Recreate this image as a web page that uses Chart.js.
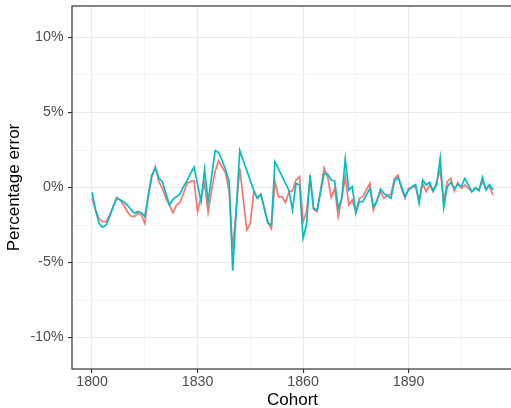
<!DOCTYPE html>
<html>
<head>
<meta charset="utf-8">
<script src="https://cdn.jsdelivr.net/npm/chart.js@4.4.1/dist/chart.umd.min.js"></script>
<style>
html,body{margin:0;padding:0;background:#fff;overflow:hidden;}
#wrap{width:515px;height:408px;}
</style>
</head>
<body>
<div id="wrap"><canvas id="c" width="515" height="408"></canvas></div>
<script>
// Red series (cohort years and percentage error)
const redYears = [1800,1801,1802,1803,1804,1805,1806,1807,1808,1809,1810,1811,1812,1813,1814,1815,1816,1817,1818,1819,1820,1821,1822,1823,1824,1825,1826,1827,1828,1829,1830,1831,1832,1833,1834,1835,1836,1837,1838,1839,1840,1842,1844,1845,1846,1847,1848,1850,1851,1852,1853,1854,1855,1856,1857,1858,1859,1860,1861,1862,1863,1864,1866,1867,1868,1869,1870,1871,1872,1873,1874,1875,1876,1877,1879,1880,1881,1882,1883,1884,1885,1886,1887,1888,1889,1890,1891,1892,1893,1894,1895,1896,1897,1898,1899,1900,1901,1902,1903,1904,1905,1906,1907,1908,1909,1910,1911,1912,1913,1914];
const redValues = [-0.72,-1.5,-2.1,-2.28,-2.28,-1.83,-1.28,-0.66,-0.83,-1.17,-1.6,-1.9,-1.94,-1.72,-1.83,-2.4,-0.6,0.7,1.39,0.39,-0.06,-0.72,-1.17,-1.68,-1.17,-1.0,-0.39,0.28,0.39,0.45,-1.61,-0.61,0.28,-1.65,-0.17,1.06,1.79,1.35,0.94,-0.3,-4.15,1.28,-2.83,-2.39,-0.28,-0.72,-0.45,-2.3,-2.75,0.4,-0.62,-0.62,-1.0,-0.28,-0.22,0.5,0.72,-2.3,-1.6,0.55,-1.45,-1.61,1.3,0.72,-0.67,-0.06,-1.94,-0.72,0.72,-1.17,-0.83,-1.61,-0.72,-0.61,0.28,-1.5,-0.83,-0.28,-0.72,-0.5,-0.46,0.61,0.83,-0.06,-0.72,-0.06,0.0,0.06,-0.83,0.28,-0.28,0.17,-0.28,0.39,1.17,-0.94,0.39,0.61,-0.23,0.34,-0.06,0.17,-0.06,-0.28,-0.06,-0.17,0.39,-0.06,0.06,-0.5];
// Teal series
const tealYears = [1800,1801,1802,1803,1804,1805,1806,1807,1808,1809,1810,1811,1812,1813,1814,1815,1816,1817,1818,1819,1820,1821,1822,1823,1824,1825,1826,1827,1828,1829,1831,1832,1833,1834,1835,1836,1837,1838,1839,1840,1842,1846,1847,1848,1850,1851,1852,1856,1857,1858,1859,1860,1861,1862,1863,1864,1866,1867,1868,1869,1870,1871,1872,1873,1874,1875,1876,1877,1879,1880,1881,1882,1883,1884,1885,1886,1887,1888,1889,1890,1891,1892,1893,1894,1895,1896,1897,1898,1899,1900,1901,1902,1903,1904,1905,1906,1907,1908,1909,1910,1911,1912,1913,1914];
const tealValues = [-0.32,-1.5,-2.4,-2.65,-2.5,-1.94,-1.28,-0.72,-0.83,-0.94,-1.17,-1.45,-1.72,-1.6,-1.68,-1.94,-0.5,0.83,1.28,0.61,0.39,-0.39,-1.17,-0.79,-0.61,-0.43,0.06,0.45,0.94,1.35,-0.94,1.21,-0.94,0.72,2.46,2.32,1.8,1.17,0.39,-5.54,2.46,-0.2,-0.72,-0.45,-2.39,-2.5,1.72,-0.2,-1.5,0.28,0.17,-3.39,-2.45,0.83,-1.39,-1.5,0.94,0.88,0.5,0.43,-1.39,-0.72,1.9,-0.17,0.06,-1.72,-0.94,-0.94,-0.06,-1.28,-0.94,-0.1,-0.39,-0.55,-0.72,0.45,0.66,0.06,-0.61,-0.17,0.06,0.2,-1.06,0.5,0.17,0.34,-0.23,0.2,1.94,-1.34,0.06,0.34,-0.06,0.2,0.06,0.61,0.17,-0.28,0.0,-0.23,0.66,-0.17,0.2,-0.17];
// Tick positions and labels
const xTicks = [1800,1815,1830,1845,1860,1875,1890,1905];
const xMajor = [1800,1830,1860,1890];
const yTicks = [-10,-7.5,-5,-2.5,0,2.5,5,7.5,10];
const yMajor = [-10,-5,0,5,10];
const xTitle = 'Cohort';
const yTitle = 'Percentage error';

Chart.defaults.font.family = "'Liberation Sans', Arial, sans-serif";

const borderPlugin = {
  id: 'panelBorder',
  afterDraw(chart) {
    const {ctx, chartArea: a} = chart;
    ctx.save();
    ctx.strokeStyle = '#333333';
    ctx.lineWidth = 1.2;
    ctx.strokeRect(a.left, a.top, a.right - a.left, a.bottom - a.top);
    ctx.restore();
  }
};

const gridOpts = (major) => ({
  color: c => (c.tick && major.includes(c.tick.value)) ? '#EBEBEB' : '#F0F0F0',
  lineWidth: c => (c.tick && major.includes(c.tick.value)) ? 1.1 : 0.7,
  tickColor: c => (c.tick && major.includes(c.tick.value)) ? '#333333' : 'rgba(0,0,0,0)',
  tickLength: 4,
  tickWidth: 1.1,
  drawTicks: true
});

const zeroPad = s => { s.paddingTop = 0; s.paddingBottom = 0; s.paddingLeft = 0; s.paddingRight = 0; };

new Chart(document.getElementById('c'), {
  type: 'line',
  data: {
    datasets: [
      {
        data: tealYears.map((x, i) => ({x: x, y: tealValues[i]})),
        borderColor: '#00BFC4', borderWidth: 1.7, pointRadius: 0, tension: 0, fill: false, order: 1
      },
      {
        data: redYears.map((x, i) => ({x: x, y: redValues[i]})),
        borderColor: '#F8766D', borderWidth: 1.7, pointRadius: 0, tension: 0, fill: false, order: 2
      }
    ]
  },
  options: {
    responsive: false,
    animation: false,
    devicePixelRatio: 1,
    layout: {padding: {left: 0, top: 6, right: 2, bottom: 0}},
    plugins: {legend: {display: false}, tooltip: {enabled: false}},
    scales: {
      x: {
        type: 'linear', min: 1794.3, max: 1919.7,
        afterBuildTicks: s => { s.ticks = xTicks.map(v => ({value: v})); },
        afterFit: s => { s.height = 39; zeroPad(s); },
        grid: gridOpts(xMajor),
        border: {display: false},
        ticks: {
          autoSkip: false, maxRotation: 0, padding: 1,
          color: '#4D4D4D', font: {size: 14.2},
          callback: v => xMajor.includes(v) ? String(v) : ''
        },
        title: {display: true, text: xTitle, color: '#000', font: {size: 17, lineHeight: 0.85}, padding: 0}
      },
      y: {
        type: 'linear', min: -12.1, max: 12.1,
        afterBuildTicks: s => { s.ticks = yTicks.map(v => ({value: v})); },
        afterFit: s => { s.width = 72; zeroPad(s); },
        grid: gridOpts(yMajor),
        border: {display: false},
        ticks: {
          autoSkip: false, padding: 4.5,
          color: '#4D4D4D', font: {size: 14.2},
          callback: v => yMajor.includes(v) ? (String(v) + '%') : ''
        },
        title: {display: true, text: yTitle, color: '#000', font: {size: 17, lineHeight: 1.2}, padding: {top: 4, bottom: 0}}
      }
    }
  },
  plugins: [borderPlugin]
});
</script>
</body>
</html>
